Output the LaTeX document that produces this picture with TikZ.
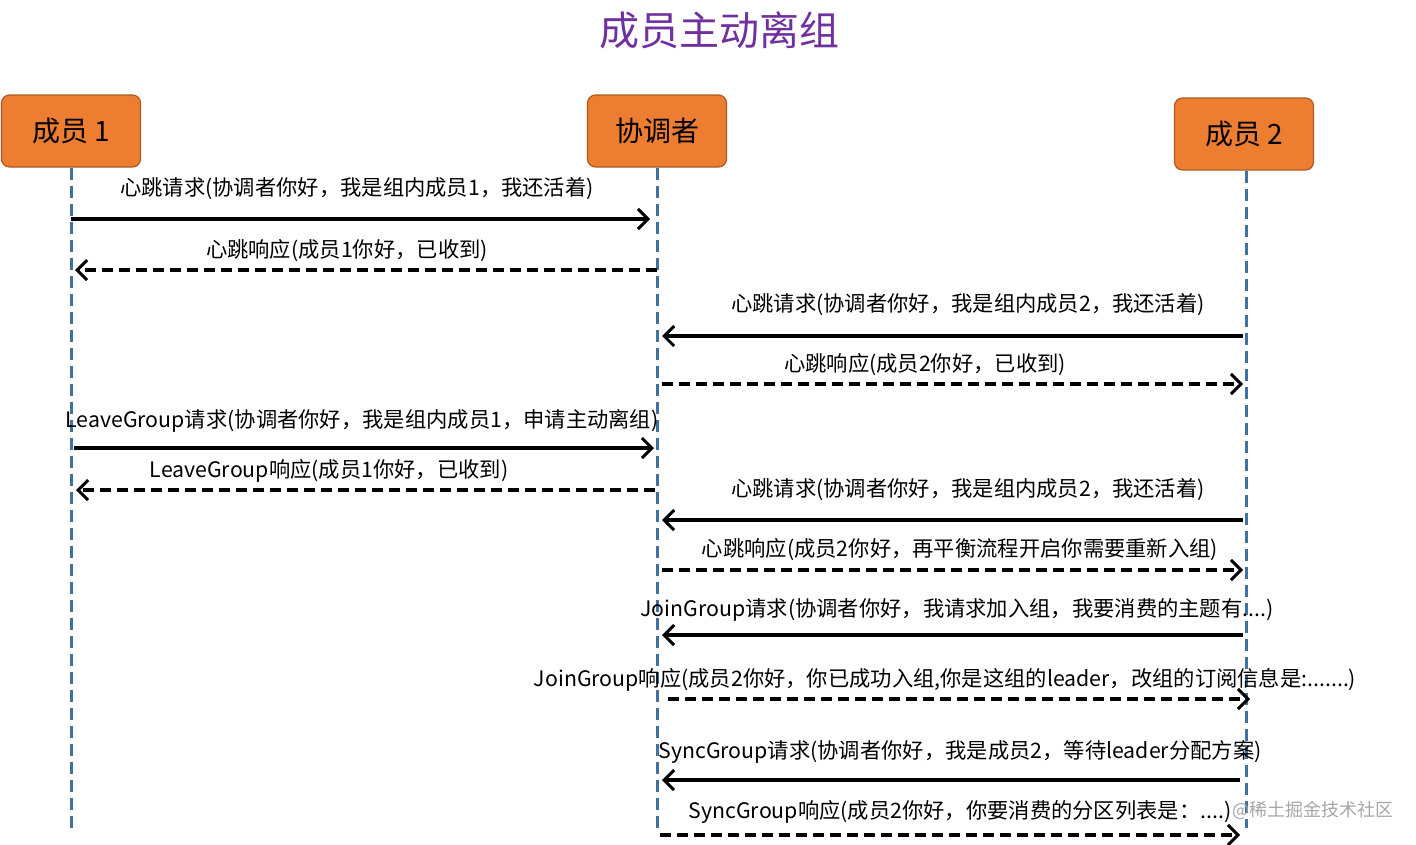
\documentclass[tikz,border=0pt]{standalone}
\usepackage{fontspec}
\setmainfont{Noto Sans CJK SC}
\usetikzlibrary{arrows.meta}
\definecolor{org}{HTML}{ED7D31}
\definecolor{orgb}{HTML}{AE5A21}
\definecolor{life}{HTML}{41719C}
\definecolor{ttl}{HTML}{7030A0}
\tikzset{
 actor/.style={draw=orgb,fill=org,rounded corners=8pt,line width=1.2pt,minimum width=139pt,minimum height=72pt,font=\fontsize{28}{30}\selectfont},
 lifeline/.style={life,dash pattern=on 12pt off 6pt,line width=3pt},
 msg/.style={line width=3.5pt,-{Straight Barb[length=10pt,width=20pt,line width=3pt]}},
 rmsg/.style={msg,dash pattern=on 11pt off 6pt},
 lbl/.style={font=\fontsize{21.3}{23}\selectfont,inner sep=0pt},
}
\begin{document}
\begin{tikzpicture}[x=1pt,y=-1pt]
\useasboundingbox (0,0) rectangle (1416,844);
\node[font=\fontsize{40}{42}\selectfont,text=ttl] (title) at (719,30) {成员主动离组};
\node[actor] (a) at (71,131) {成员 1};
\node[actor] (c) at (657,131) {协调者};
\node[actor] (b) at (1244,134) {成员 2};
\coordinate (ae) at (71,828); \coordinate (ce) at (657,828); \coordinate (be) at (1246,828);
\draw[lifeline] (a.south) -- (ae);
\draw[lifeline] (c.south) -- (ce);
\draw[lifeline] (b.south) ++(2,0) -- (be);
\foreach \i/\xa/\xb/\y/\st in {1/71/650/219/msg,2/657/75/270/rmsg,3/1243/662/336/msg,4/662/1243/384/rmsg,5/74/654/448/msg,6/655/76/490/rmsg,7/1243/662/520/msg,8/662/1243/570/rmsg,9/1243/662/635/msg,10/668/1250/699/rmsg,11/1240/662/780/msg,12/660/1240/835/rmsg}{
  \coordinate (s\i) at (\xa,\y); \coordinate (e\i) at (\xb,\y);
  \draw[\st] (s\i) -- (e\i);
}
\node[lbl] (l1) at (357,189) {心跳请求(协调者你好，我是组内成员1，我还活着)};
\node[lbl] (l2) at (347,251) {心跳响应(成员1你好，已收到)};
\node[lbl] (l3) at (968,305) {心跳请求(协调者你好，我是组内成员2，我还活着)};
\node[lbl] (l4) at (925,365) {心跳响应(成员2你好，已收到)};
\node[lbl] (l5) at (362,421) {LeaveGroup请求(协调者你好，我是组内成员1，申请主动离组)};
\node[lbl] (l6) at (329,471) {LeaveGroup响应(成员1你好，已收到)};
\node[lbl] (l7) at (968,490) {心跳请求(协调者你好，我是组内成员2，我还活着)};
\node[lbl] (l8) at (960,550) {心跳响应(成员2你好，再平衡流程开启你需要重新入组)};
\node[lbl] (l9) at (957,610) {JoinGroup请求(协调者你好，我请求加入组，我要消费的主题有....)};
\node[lbl] (l10) at (945,680) {JoinGroup响应(成员2你好，你已成功入组,你是这组的leader，改组的订阅信息是:.......)};
\node[lbl] (l11) at (960,752) {SyncGroup请求(协调者你好，我是成员2，等待leader分配方案)};
\node[lbl] (l12) at (960,812) {SyncGroup响应(成员2你好，你要消费的分区列表是：....)};
\node[font=\fontsize{18}{20}\selectfont,text=black!35,inner sep=0pt] (wm) at (1313,810) {@稀土掘金技术社区};
\end{tikzpicture}
\end{document}
